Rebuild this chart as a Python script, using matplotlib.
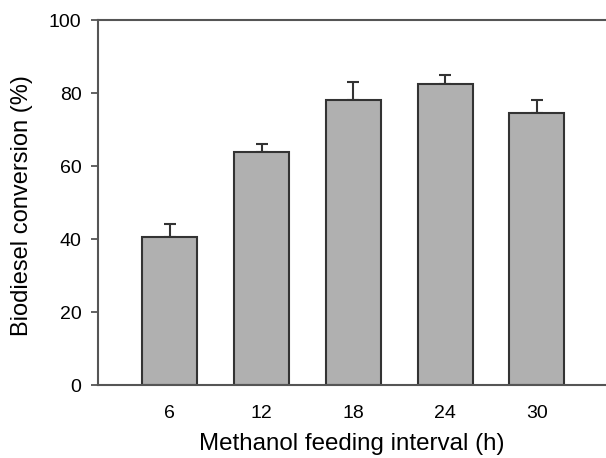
import numpy as np
import matplotlib
matplotlib.use("Agg")
import matplotlib.pyplot as plt

plt.rcParams['font.family'] = ['Liberation Sans', 'DejaVu Sans']

# Conversion vs. methanol feeding interval
intervals = ['6', '12', '18', '24', '30']
conversion = [40.5, 63.8, 78.1, 82.6, 74.5]
err_up = [3.6, 2.2, 4.9, 2.3, 3.5]

fig = plt.figure(figsize=(6.06, 4.58), dpi=100)
ax = fig.add_axes([0.162, 0.159, 0.836, 0.797])

x = np.arange(len(intervals))
ax.bar(x, conversion, width=0.6, color='#b0b0b0', edgecolor='#333333',
       linewidth=1.5, zorder=2)
ax.errorbar(x, conversion, yerr=[np.zeros(len(err_up)), err_up], fmt='none',
            ecolor='#333333', elinewidth=1.5, capsize=4.5, capthick=1.5, zorder=1)

ax.set_xlim(-0.78, 4.74)
ax.set_ylim(0, 100)
ax.set_xticks(x)
ax.set_xticklabels(intervals)
ax.set_yticks([0, 20, 40, 60, 80, 100])

for s in ['bottom', 'left', 'top']:
    ax.spines[s].set_color('#555555')
    ax.spines[s].set_linewidth(1.5)
ax.spines['right'].set_visible(False)

ax.tick_params(axis='y', direction='out', length=5, width=1.3, color='#555555',
               labelsize=14, pad=7)
ax.tick_params(axis='x', length=0, labelsize=14, pad=14)

ax.set_xlabel('Methanol feeding interval (h)', fontsize=17.4)
ax.set_ylabel('Biodiesel conversion (%)', fontsize=17)
ax.xaxis.set_label_coords(0.5, -0.131)
ax.yaxis.set_label_coords(-0.128, 0.493)

fig.savefig('out.png', dpi=100)
